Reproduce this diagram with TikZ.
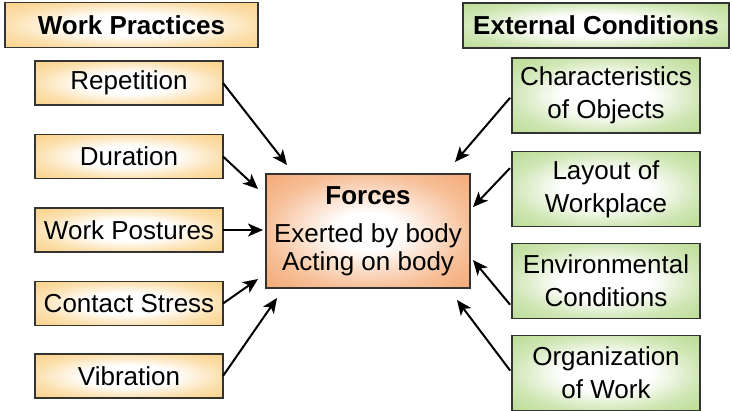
\documentclass[tikz,border=0pt]{standalone}
\usepackage{fontspec}
\setmainfont{Liberation Sans}
\usetikzlibrary{arrows.meta}
\definecolor{practice}{RGB}{250,210,138}
\definecolor{external}{RGB}{188,220,150}
\definecolor{force}{RGB}{244,170,118}
\pgfdeclareradialshading{practiceglow}{\pgfpoint{0bp}{0bp}}{color(0bp)=(white); color(12bp)=(white); color(25bp)=(practice!70); color(35bp)=(practice); color(50bp)=(practice)}
\pgfdeclareradialshading{externalglow}{\pgfpoint{0bp}{0bp}}{color(0bp)=(white); color(12bp)=(white); color(25bp)=(external!70); color(35bp)=(external); color(50bp)=(external)}
\pgfdeclareradialshading{forceglow}{\pgfpoint{0bp}{0bp}}{color(0bp)=(white); color(8bp)=(white); color(25bp)=(force!75); color(35bp)=(force); color(50bp)=(force)}
\begin{document}
\begin{tikzpicture}[x=0.5pt, y=-0.5pt, font=\fontsize{13}{16.5}\selectfont, every node/.style={draw=black!80, line width=0.7pt, inner sep=0pt, outer sep=0pt, align=center}, practicebox/.style={shading=practiceglow, minimum width=94pt, minimum height=22pt}, externalbox/.style={shading=externalglow, minimum width=94pt, minimum height=37.5pt}, headbox/.style={minimum height=22.5pt, font=\fontsize{13}{16.5}\selectfont\bfseries}, connector/.style={-{Stealth[length=7.5pt, width=6.5pt, inset=2pt]}, line width=1pt}]
        \fill[white] (0,0) rectangle (732,411);
        \useasboundingbox (0,0) rectangle (732,411);
        \node[headbox, shading=practiceglow, minimum width=126.5pt] (practices) at (131.5, 25) {Work Practices};
        \node[headbox, shading=externalglow, minimum width=133pt] (conditions) at (596, 25.5) {External Conditions};
        \node[practicebox] (repetition) at (129, 83) {Repetition};
        \node[practicebox] (duration) at (129, 156.5) {Duration};
        \node[practicebox] (postures) at (129, 230) {Work Postures};
        \node[practicebox] (contact) at (129, 303.5) {Contact Stress};
        \node[practicebox] (vibration) at (129, 376) {Vibration};
        \node[externalbox] (objects) at (606, 95.5) {Characteristics\\of Objects};
        \node[externalbox] (layout) at (606, 189) {Layout of\\Workplace};
        \node[externalbox] (environment) at (606, 281) {Environmental\\Conditions};
        \node[externalbox] (organization) at (606, 373) {Organization\\of Work};
        \node[shading=forceglow, minimum width=102pt, minimum height=57pt, font=\fontsize{13}{14}\selectfont] (forces) at (368, 231) {\textbf{Forces}\\[5pt]Exerted by body\\Acting on body};
        \coordinate (to repetition) at (287, 165);
        \coordinate (to duration) at (258, 189);
        \coordinate (to postures) at (263, 230);
        \coordinate (to contact) at (258, 279);
        \coordinate (to vibration) at (277, 298);
        \coordinate (to objects) at (455, 162);
        \coordinate (to layout) at (473, 207);
        \coordinate (to environment) at (473, 260);
        \coordinate (to organization) at (457, 300);
        \draw[connector] (repetition.east) -- (to repetition);
        \draw[connector] (duration.east) -- (to duration);
        \draw[connector] (postures.east) -- (to postures);
        \draw[connector] (contact.east) -- (to contact);
        \draw[connector] (vibration.east) -- (to vibration);
        \draw[connector, shorten <=1.5pt] (objects.west) -- (to objects);
        \draw[connector, shorten <=1.5pt] ([yshift=11.5pt]layout.west) -- (to layout);
        \draw[connector, shorten <=1.5pt] ([yshift=-13pt]environment.west) -- (to environment);
        \draw[connector, shorten <=1.5pt] (organization.west) -- (to organization);
    \end{tikzpicture}
\end{document}
